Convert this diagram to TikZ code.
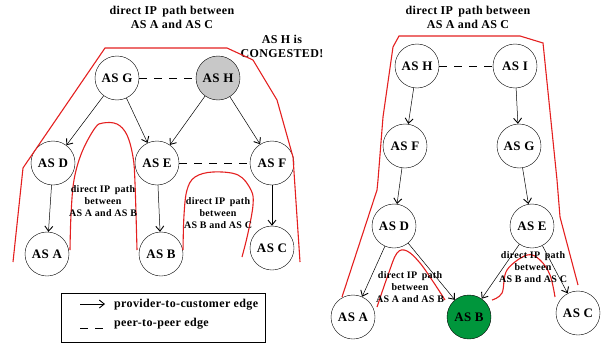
\documentclass[tikz,border=0pt]{standalone}
\usepackage{fontspec}
\setmainfont{Liberation Serif}[LetterSpace=3]
\usepackage{xcolor}
\definecolor{pathred}{RGB}{228,32,32}
\definecolor{congray}{RGB}{200,200,200}
\definecolor{okgreen}{RGB}{0,150,60}
\usetikzlibrary{arrows.meta,positioning}

\tikzset{
  asnode/.style={draw, circle, thin, minimum size=44pt, inner sep=0pt, font=\fontsize{13}{14}\selectfont\bfseries},
  pc/.style={-{Straight Barb[length=5pt,width=8pt,line width=0.9pt]}, line width=0.5pt},
  pp/.style={dash pattern=on 8pt off 7pt, line width=1pt},
  iplabel/.style={align=center, font=\fontsize{10}{12}\selectfont\bfseries, inner sep=0pt},
  titlelabel/.style={align=center, font=\fontsize{12}{14}\selectfont\bfseries, inner sep=0pt},
  redpath/.style={pathred, line width=1.1pt}
}

\begin{document}
\begin{tikzpicture}[x=1pt, y=-1pt]
  \useasboundingbox (0,0) rectangle (601,345);

  % ================= Left panel: AS H congested =================
  \node[titlelabel] (ltitle) at (172,17) {direct IP\, path between\\AS A and AS C};
  \node[titlelabel] (lwarn) at (282,46) {AS H is\\CONGESTED!};

  \node[asnode] (lG) at (117,78) {AS G};
  \node[asnode, fill=congray] (lH) at (218,78) {AS H};
  \node[asnode] (lD) at (53,163) {AS D};
  \node[asnode] (lE) at (157,163) {AS E};
  \node[asnode] (lF) at (272,163) {AS F};
  \node[asnode] (lA) at (47,254) {AS A};
  \node[asnode] (lB) at (161,254) {AS B};
  \node[asnode] (lC) at (272,248) {AS C};

  \draw[pp] (lG) -- (lH);
  \draw[pp] (lE) -- (lF);
  \draw[pc] (lG) -- (lD);
  \draw[pc] (lG) -- (lE);
  \draw[pc] (lH) -- (lE);
  \draw[pc] (lH) -- (lF);
  \draw[pc] (lD) -- (lA);
  \draw[pc] (lE) -- (lB);
  \draw[pc] (lF) -- (lC);

  % red IP paths
  \draw[redpath] (13,262) -- (23,168) -- (25,165) -- (105,48) -- (227,48)
    -- (253,60) -- (277,100) -- (293,157) -- (300,262);
  \draw[redpath] plot[smooth, tension=0.6] coordinates {(70,250) (71,215) (74,180) (82,152) (95,128) (103,123) (117,124) (127,135) (133,157) (135,183) (137,250)};
  \draw[redpath] plot[smooth, tension=0.6] coordinates {(183,250) (184,215) (187,190) (195,177) (213,172) (238,175) (251,190) (253,205) (248,233) (242,257)};

  \node[iplabel] (lab) at (103,201) {direct IP\, path\\between\\AS A and AS B};
  \node[iplabel] (lbc) at (218,213) {direct IP\, path\\between\\AS B and AS C};

  % ---------- legend
  \node[draw, thin, minimum width=204pt, minimum height=49pt] (legend) at (163,317.5) {};
  \coordinate (legA) at (80,304);
  \coordinate (legB) at (105,304);
  \coordinate (legC) at (80,328);
  \coordinate (legD) at (104,328);
  \draw[pc] (legA) -- (legB);
  \draw[pp] (legC) -- (legD);
  \node[titlelabel, anchor=west] (legpc) at (114,305) {provider-to-customer edge};
  \node[titlelabel, anchor=west] (legpp) at (114,324) {peer-to-peer edge};

  % ================= Right panel: path around AS H =================
  \node[titlelabel] (rtitle) at (468,17) {direct IP\, path between\\AS A and AS C};

  \node[asnode] (rH) at (417,66) {AS H};
  \node[asnode] (rI) at (515,66) {AS I};
  \node[asnode] (rF) at (405,146) {AS F};
  \node[asnode] (rG) at (519,146) {AS G};
  \node[asnode] (rD) at (394,226) {AS D};
  \node[asnode] (rE) at (532,226) {AS E};
  \node[asnode] (rA) at (353,317) {AS A};
  \node[asnode, fill=okgreen] (rB) at (469,317) {AS B};
  \node[asnode] (rC) at (578,313) {AS C};

  \draw[pp] (rH) -- (rI);
  \draw[pc] (rH) -- (rF);
  \draw[pc] (rI) -- (rG);
  \draw[pc] (rF) -- (rD);
  \draw[pc] (rG) -- (rE);
  \draw[pc] (rD) -- (rA);
  \draw[pc] (rD) -- (rB);
  \draw[pc] (rE) -- (rB);
  \draw[pc] (rE) -- (rC);

  % red IP paths
  \draw[redpath] (342,297) -- (377,190) -- (378,180) -- (383,117) -- (393,47)
    -- (399,36) -- (520,36) -- (543,43) -- (557,180) -- (560,217) -- (578,285);
  \draw[redpath] plot[smooth, tension=0.6] coordinates {(377,307) (388,275) (397,253) (407,251) (420,263) (434,283) (445,300)};
  \draw[redpath] plot[smooth, tension=0.6] coordinates {(492,300) (502,293) (507,270) (527,255) (540,260) (550,275) (555,297)};

  \node[iplabel] (rab) at (410,287) {direct IP\, path\\between\\AS A and AS B};
  \node[iplabel] (rbc) at (533,267) {direct IP\, path\\between\\AS B and AS C};
\end{tikzpicture}
\end{document}
